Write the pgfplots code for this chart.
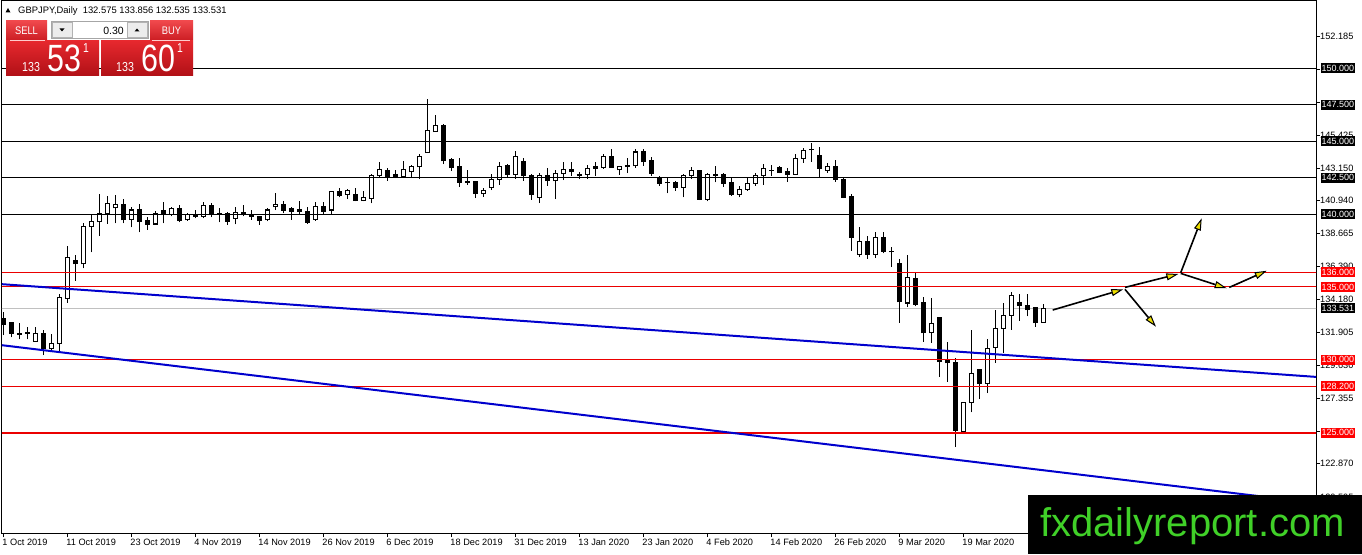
\documentclass[border=0pt]{standalone}
\usepackage{pgfplots}
\usepackage{pgfplotstable}
\pgfplotsset{compat=1.18}
\usepackage{fontspec}
\setmainfont{Liberation Sans}
\usetikzlibrary{arrows.meta}

\definecolor{lvlred}{RGB}{235,0,0}
\definecolor{trendblue}{RGB}{0,0,205}
\definecolor{bidgray}{RGB}{192,192,192}
\definecolor{fxgreen}{RGB}{64,208,40}
\definecolor{arrowyellow}{RGB}{236,222,0}
\definecolor{btntop}{RGB}{240,72,76}
\definecolor{btnbot}{RGB}{204,30,36}
\definecolor{paneltop}{RGB}{230,40,46}
\definecolor{panelbot}{RGB}{176,16,22}

% daily GBPJPY candles, bar index / open / high / low / close
\pgfplotstableread{
i o h l c
0 132.83 133.29 131.69 132.44
1 132.53 132.60 131.54 131.81
2 131.80 132.50 131.40 131.75
3 131.90 132.26 131.40 131.80
4 131.29 132.26 131.24 131.81
5 131.81 132.08 130.33 130.78
6 130.78 131.76 130.62 131.12
7 131.12 134.49 130.53 134.27
8 134.20 137.84 133.90 137.04
9 136.82 137.16 135.41 136.59
10 136.59 139.36 136.28 139.14
11 139.14 140.01 137.38 139.46
12 139.46 141.41 138.52 140.01
13 140.01 141.26 139.32 140.73
14 140.42 141.33 139.36 140.69
15 140.69 141.03 139.36 139.60
16 139.66 140.50 139.09 140.28
17 140.28 140.69 138.75 139.50
18 139.55 139.77 138.92 139.32
19 139.32 140.23 139.28 140.05
20 140.23 140.80 139.36 139.96
21 139.96 140.50 139.85 140.35
22 140.35 140.64 139.43 139.55
23 139.60 140.10 139.53 139.94
24 139.96 140.30 139.70 139.82
25 139.82 140.80 139.70 140.57
26 140.62 140.73 139.77 139.96
27 140.01 140.42 139.43 140.00
28 140.01 140.12 139.28 139.50
29 139.73 140.50 139.30 140.08
30 140.08 140.60 139.85 139.94
31 139.96 140.30 139.60 139.82
32 139.82 139.82 139.28 139.55
33 139.60 140.42 139.50 140.28
34 140.50 141.48 140.28 140.69
35 140.69 140.92 140.05 140.28
36 140.35 140.50 139.60 140.19
37 140.33 140.92 139.96 140.19
38 140.19 140.46 139.32 139.43
39 139.66 140.80 139.55 140.50
40 140.50 140.85 140.00 140.19
41 140.28 141.60 140.00 141.53
42 141.53 141.78 141.14 141.26
43 141.37 141.71 141.03 141.60
44 141.37 141.78 140.87 140.92
45 140.92 141.60 140.87 141.14
46 141.10 142.78 140.73 142.62
47 142.62 143.60 142.47 143.08
48 143.01 143.15 142.28 142.55
49 142.70 143.00 142.47 142.60
50 142.60 143.65 142.47 143.08
51 142.92 143.37 142.47 143.24
52 143.24 144.15 142.40 143.92
53 144.21 147.93 144.20 145.74
54 145.65 146.79 145.65 146.06
55 146.06 146.15 143.42 143.65
56 143.72 143.87 142.96 143.19
57 143.24 143.87 141.87 142.17
58 142.20 143.00 142.00 142.25
59 142.23 142.23 141.10 141.41
60 141.41 141.78 141.19 141.65
61 141.82 142.74 141.65 142.40
62 142.40 143.60 142.00 143.24
63 143.31 143.42 142.47 142.74
64 142.74 144.33 142.40 143.94
65 143.58 143.87 142.28 142.62
66 142.67 142.74 140.98 141.37
67 141.14 142.81 140.76 142.67
68 142.62 143.19 141.94 142.28
69 142.28 143.03 141.03 142.81
70 142.81 143.60 142.33 143.08
71 143.03 143.60 142.60 142.92
72 142.74 142.90 142.40 142.62
73 142.74 143.40 142.40 143.15
74 143.26 143.60 142.60 143.15
75 143.19 144.10 143.12 143.94
76 143.94 144.45 143.19 143.19
77 143.03 143.26 142.70 143.26
78 143.30 143.87 142.81 143.26
79 143.31 144.49 143.19 144.26
80 144.26 144.49 143.31 143.58
81 143.65 143.94 142.62 142.81
82 142.47 142.60 141.96 142.10
83 142.15 142.47 141.42 142.15
84 142.15 142.30 141.60 141.83
85 141.83 142.74 141.14 142.62
86 142.62 143.24 142.40 143.01
87 142.96 143.00 140.96 141.03
88 141.03 142.85 140.87 142.70
89 142.74 143.31 142.17 142.67
90 142.74 142.85 141.87 142.10
91 142.17 142.47 141.26 141.33
92 141.37 141.94 141.14 141.71
93 141.71 142.47 141.60 142.10
94 142.10 142.85 141.96 142.62
95 142.62 143.46 142.00 143.15
96 143.00 143.35 142.60 143.01
97 143.19 143.30 142.80 142.85
98 142.90 143.15 142.23 142.74
99 142.74 144.10 142.74 143.83
100 143.83 144.56 143.53 144.38
101 144.42 144.90 143.60 144.40
102 143.99 144.60 142.51 143.15
103 143.01 143.50 142.85 143.24
104 143.24 143.70 142.23 142.40
105 142.40 142.47 141.10 141.14
106 141.19 141.41 137.50 138.41
107 137.23 139.14 137.04 138.14
108 138.14 138.52 136.93 137.23
109 137.23 138.75 136.98 138.37
110 138.37 138.75 137.30 137.45
111 137.45 137.73 136.36 137.40
112 136.59 136.93 132.54 133.97
113 133.90 137.16 133.63 135.68
114 135.57 135.95 133.67 133.81
115 133.90 134.31 131.24 131.85
116 131.85 134.27 131.17 132.49
117 132.90 132.94 128.84 129.87
118 129.94 131.24 128.50 129.80
119 129.80 130.10 124.02 125.16
120 125.09 127.07 125.02 127.07
121 127.07 132.04 126.39 129.03
122 129.35 129.35 127.30 128.39
123 128.39 131.40 127.71 130.79
124 130.86 133.40 129.80 132.15
125 132.15 133.90 130.48 133.06
126 133.06 134.65 132.08 134.43
127 133.90 134.54 132.67 133.74
128 133.74 134.54 132.99 133.45
129 133.58 133.58 132.26 132.53
130 132.575 133.856 132.535 133.531
}\candles

\begin{document}
\begin{tikzpicture}[x=1pt,y=1pt]
\fill[white] (0,0) rectangle (1362,554);
\begin{axis}[
  at={(2pt,21pt)}, anchor=south west,
  scale only axis, width=1314pt, height=532pt,
  xmin=-0.16, xmax=164.09, ymin=118.12, ymax=154.62,
  axis line style={black, line width=1pt},
  xtick={0,8,...,120},
  xticklabels={1 Oct 2019, 11 Oct 2019, 23 Oct 2019, 4 Nov 2019, 14 Nov 2019,
    26 Nov 2019, 6 Dec 2019, 18 Dec 2019, 31 Dec 2019, 13 Jan 2020,
    23 Jan 2020, 4 Feb 2020, 14 Feb 2020, 26 Feb 2020, 9 Mar 2020, 19 Mar 2020},
  ytick={152.185,149.910,147.635,145.425,143.150,140.940,138.665,136.390,
    134.180,131.905,129.630,127.355,125.080,122.870,120.595},
  yticklabels={152.185,,,145.425,143.150,140.940,138.665,136.390,
    134.180,131.905,129.630,127.355,,122.870,120.595},
  xtick pos=bottom, ytick pos=right, yticklabel pos=right,
  tick align=outside, major tick length=4pt,
  tick style={black, line width=0.8pt},
  tick label style={font=\fontsize{9.2}{10}\selectfont},
  xticklabel style={anchor=north west, inner sep=0pt, xshift=-1pt, yshift=-2pt},
  yticklabel style={anchor=west, inner sep=0pt},
]
% bid line
\addplot[bidgray, line width=1pt, forget plot] coordinates {(-1,133.531) (170,133.531)};
% wicks
\addplot[draw=none, mark=none, forget plot,
  error bars/.cd, y dir=plus, y explicit, error mark=none,
  error bar style={draw=black, solid, line width=1pt}]
  table[x=i, y=l, y error expr=\thisrow{h}-\thisrow{l}] {\candles};
% body outlines
\addplot[draw=none, mark=none, forget plot,
  error bars/.cd, y dir=plus, y explicit, error mark=none,
  error bar style={draw=black, solid, line width=5pt}]
  table[x=i, y expr={min(\thisrow{o},\thisrow{c})-0.035},
    y error expr={abs(\thisrow{c}-\thisrow{o})+0.07}] {\candles};
% hollow bodies of rising days
\addplot[draw=none, mark=none, forget plot,
  restrict expr to domain={\thisrow{c}-\thisrow{o}}{0.00001:100},
  error bars/.cd, y dir=plus, y explicit, error mark=none,
  error bar style={draw=white, solid, line width=3pt}]
  table[x=i, y expr={\thisrow{o}+0.035},
    y error expr={max(\thisrow{c}-\thisrow{o}-0.07,0)}] {\candles};

% horizontal levels
\addplot[black, line width=1pt, forget plot] coordinates {(-1,150) (170,150)};
\addplot[black, line width=1pt, forget plot] coordinates {(-1,147.5) (170,147.5)};
\addplot[black, line width=1pt, forget plot] coordinates {(-1,145) (170,145)};
\addplot[black, line width=1pt, forget plot] coordinates {(-1,142.5) (170,142.5)};
\addplot[black, line width=1pt, forget plot] coordinates {(-1,140) (170,140)};
\addplot[lvlred, line width=1pt, forget plot] coordinates {(-1,136) (170,136)};
\addplot[lvlred, line width=1pt, forget plot] coordinates {(-1,135) (170,135)};
\addplot[lvlred, line width=1pt, forget plot] coordinates {(-1,130) (170,130)};
\addplot[lvlred, line width=1pt, forget plot] coordinates {(-1,128.2) (170,128.2)};
\addplot[lvlred, line width=2pt, forget plot] coordinates {(-1,125) (170,125)};

% trend lines
\addplot[trendblue, line width=2pt, forget plot] coordinates {(-0.41,135.20) (164.09,128.83)};
\addplot[trendblue, line width=2pt, forget plot] coordinates {(-0.41,131.02) (164.09,120.18)};

% forecast arrows
\pgfplotsset{fc/.style={black, line width=1.6pt, forget plot,
  -{Triangle[length=12pt, width=7pt, fill=arrowyellow, line width=1pt]}}}
\addplot[fc] coordinates {(131.18,133.42) (140.00,134.84)};
\addplot[fc] coordinates {(140.21,134.97) (146.88,135.89)};
\addplot[fc] coordinates {(140.21,134.84) (144.09,132.27)};
\addplot[fc] coordinates {(147.18,135.98) (149.80,139.71)};
\addplot[fc] coordinates {(147.18,135.93) (152.93,134.91)};
\addplot[fc] coordinates {(153.25,134.97) (157.93,136.11)};

\coordinate (q150) at (axis cs:164.09,150);
\coordinate (q1475) at (axis cs:164.09,147.5);
\coordinate (q145) at (axis cs:164.09,145);
\coordinate (q1425) at (axis cs:164.09,142.5);
\coordinate (q140) at (axis cs:164.09,140);
\coordinate (q136) at (axis cs:164.09,136);
\coordinate (q135) at (axis cs:164.09,135);
\coordinate (qbid) at (axis cs:164.09,133.531);
\coordinate (q130) at (axis cs:164.09,130);
\coordinate (q1282) at (axis cs:164.09,128.2);
\coordinate (q125) at (axis cs:164.09,125);
\end{axis}

% price boxes on the right scale
\foreach \q/\t/\col in {q150/150.000/black, q1475/147.500/black, q145/145.000/black,
    q1425/142.500/black, q140/140.000/black, q136/136.000/red, q135/135.000/red,
    qbid/133.531/black, q130/130.000/red, q1282/128.200/red, q125/125.000/red}
  \node[anchor=west, fill=\col, text=white, inner xsep=1pt, inner ysep=0pt,
    minimum height=10pt, font=\fontsize{9}{9}\selectfont] at ([xshift=4.5pt]\q) {\t};

% header
\fill[black] (5.5,541.5) -- (10.5,541.5) -- (8,546) -- cycle;
\node[anchor=base west, inner sep=0pt, font=\fontsize{9.4}{10}\selectfont]
  at (18,540) {GBPJPY,Daily\ \ 132.575 133.856 132.535 133.531};

% one click trading panel
\shade[top color=btntop, bottom color=btnbot] (6,514) rectangle (47,533);
\shade[top color=btntop, bottom color=btnbot] (150,514) rectangle (193,533);
\draw[gray!70, fill=white] (51.5,515.5) rectangle (148.5,532.5);
\draw[gray!60, fill=gray!15] (52.5,516.5) rectangle (72,531.5);
\draw[gray!60, fill=gray!15] (127,516.5) rectangle (147.5,531.5);
\fill[black] (59.5,525.5) -- (64.5,525.5) -- (62,522.5) -- cycle;
\fill[black] (134.5,522.5) -- (139.5,522.5) -- (137,525.5) -- cycle;
\node[text=white, font=\fontsize{11}{12}\selectfont] at (26.5,523.5) {\scalebox{0.85}[1]{SELL}};
\node[text=white, font=\fontsize{11}{12}\selectfont] at (171.5,523.5) {\scalebox{0.85}[1]{BUY}};
\node[anchor=east, inner sep=0pt, font=\fontsize{10.5}{11}\selectfont] at (124,523.5) {0.30};
\shade[top color=paneltop, bottom color=panelbot] (6,478) rectangle (99,513);
\shade[top color=paneltop, bottom color=panelbot] (101,478) rectangle (193,513);
\draw[white!80!red, line width=0.6pt] (10,513.3) -- (45,513.3);
\draw[white!80!red, line width=0.6pt] (152,513.3) -- (190,513.3);
\node[anchor=base west, inner sep=0pt, text=white, font=\fontsize{13}{14}\selectfont] at (22,482.3) {\scalebox{0.82}[1]{133}};
\node[anchor=base west, inner sep=0pt, text=white, font=\fontsize{38}{40}\selectfont] at (47,482.3) {\scalebox{0.8}[1]{53}};
\node[anchor=base west, inner sep=0pt, text=white, font=\fontsize{13}{14}\selectfont] at (83,501) {\scalebox{0.8}[1]{1}};
\node[anchor=base west, inner sep=0pt, text=white, font=\fontsize{13}{14}\selectfont] at (116,482.3) {\scalebox{0.82}[1]{133}};
\node[anchor=base west, inner sep=0pt, text=white, font=\fontsize{38}{40}\selectfont] at (141,482.3) {\scalebox{0.8}[1]{60}};
\node[anchor=base west, inner sep=0pt, text=white, font=\fontsize{13}{14}\selectfont] at (177,501) {\scalebox{0.8}[1]{1}};

% watermark
\fill[black] (1028,0) rectangle (1362,59);
\node[anchor=base west, inner sep=0pt, text=fxgreen, font=\fontsize{40}{42}\selectfont]
  at (1040,17) {fxdailyreport.com};

\pgfresetboundingbox
\useasboundingbox (0,0) rectangle (1362,554);
\end{tikzpicture}
\end{document}
